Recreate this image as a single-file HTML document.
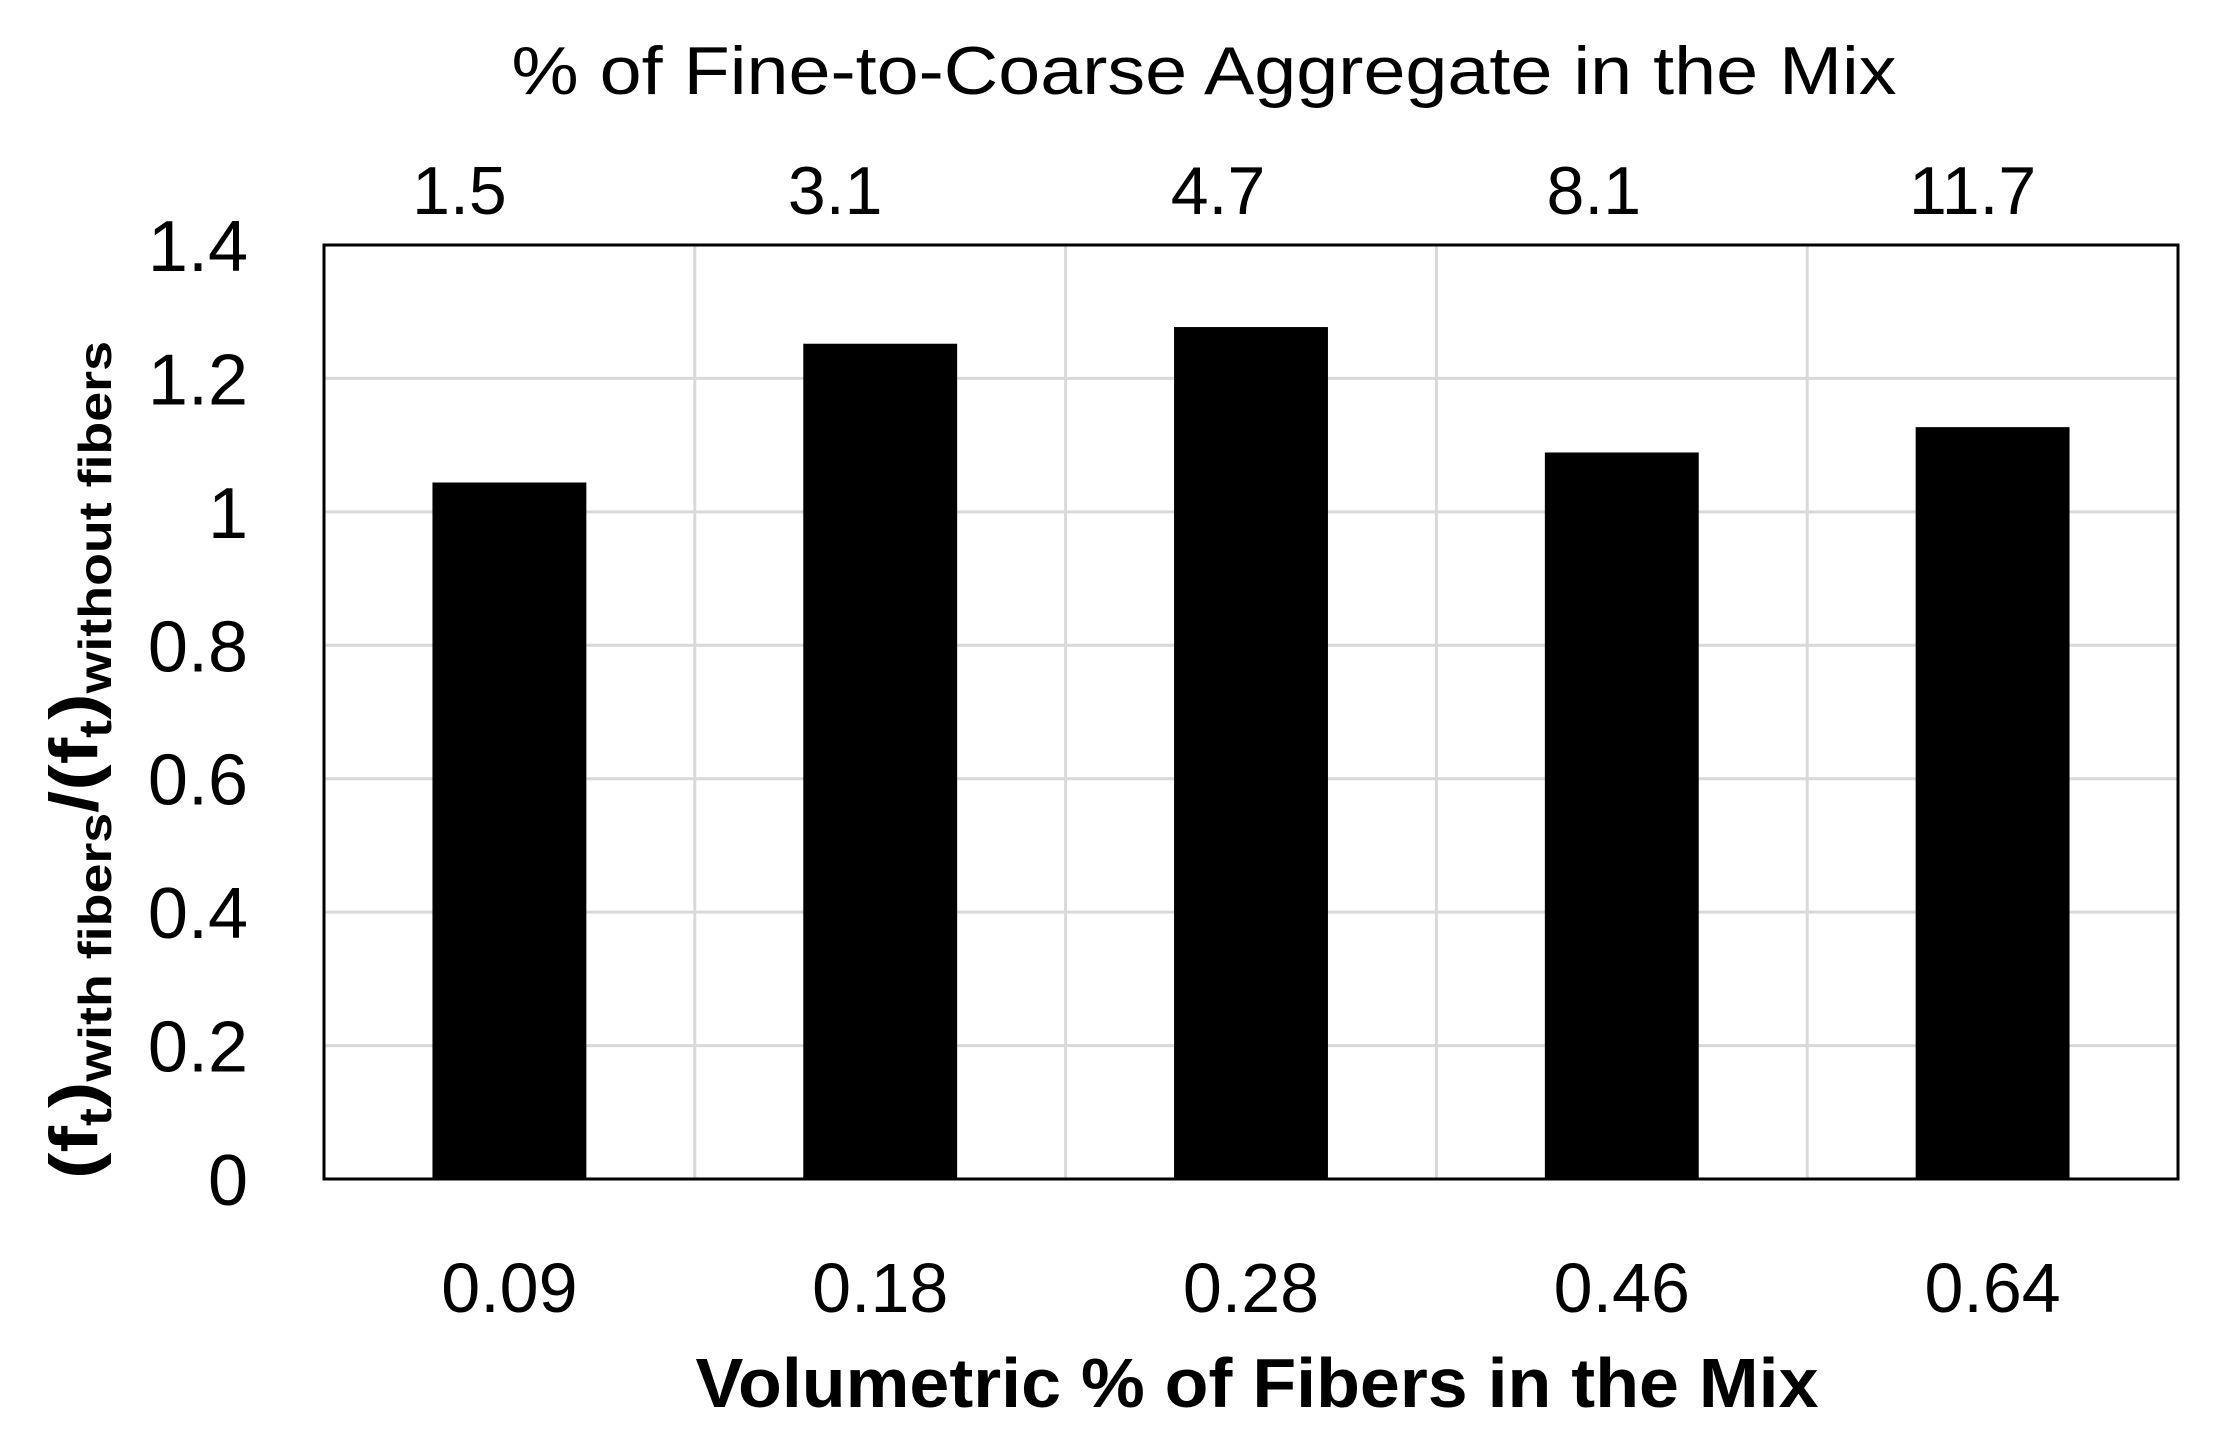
<!DOCTYPE html>
<html><head><meta charset="utf-8"><style>
html,body{margin:0;padding:0;background:#fff;}
svg{display:block;font-family:"Liberation Sans",sans-serif;}
</style></head><body>
<svg id="chart" width="2217" height="1436" viewBox="0 0 2217 1436" xmlns="http://www.w3.org/2000/svg">
<rect x="0" y="0" width="2217" height="1436" fill="#fff"/>
<g id="grid"></g>
<g id="bars"></g>
<rect x="324" y="245" width="1854" height="934" fill="none" stroke="#000" stroke-width="3"/>
<g id="labels"></g>
<text x="1204" y="94" text-anchor="middle" font-size="68" textLength="1385" lengthAdjust="spacingAndGlyphs">% of Fine-to-Coarse Aggregate in the Mix</text>
<text x="1257" y="1407" text-anchor="middle" font-size="70" font-weight="bold" textLength="1123" lengthAdjust="spacingAndGlyphs">Volumetric % of Fibers in the Mix</text>
<text transform="translate(97,760) rotate(-90)" text-anchor="middle" font-size="68" font-weight="bold" textLength="838" lengthAdjust="spacingAndGlyphs">(f<tspan font-size="46" dy="14">t</tspan><tspan dy="-14">)</tspan><tspan font-size="46" dy="14">with fibers</tspan><tspan dy="-14">/(f</tspan><tspan font-size="46" dy="14">t</tspan><tspan dy="-14">)</tspan><tspan font-size="46" dy="14">without fibers</tspan></text>
</svg>
<script>
const categories = ["0.09","0.18","0.28","0.46","0.64"];
const topLabels = ["1.5","3.1","4.7","8.1","11.7"];
const values = [1.044, 1.252, 1.277, 1.089, 1.127];
const yTicks = [0,0.2,0.4,0.6,0.8,1,1.2,1.4];
const yTickLabels = ["0","0.2","0.4","0.6","0.8","1","1.2","1.4"];
const L=324,R=2178,T=245,B=1179,YMAX=1.4;
const NS="http://www.w3.org/2000/svg";
function y(v){return B-(v/YMAX)*(B-T);}
function band(){return (R-L)/categories.length;}
function xc(i){return L+band()*(i+0.5);}
const grid=document.getElementById('grid'),bars=document.getElementById('bars'),labels=document.getElementById('labels');
function mk(tag,attrs,parent){const e=document.createElementNS(NS,tag);for(const k in attrs)e.setAttribute(k,attrs[k]);parent.appendChild(e);return e;}
yTicks.forEach((t,i)=>{
  const g=mk('line',{x1:L,x2:R,y1:y(t),y2:y(t),stroke:'#d9d9d9','stroke-width':3},grid);
  
  
  const tx=mk('text',{x:248,y:y(t)+26,'text-anchor':'end','font-size':72},labels);
  tx.textContent=yTickLabels[i];
  
  
});
for(let i=1;i<categories.length;i++){
  const v=mk('line',{x1:L+band()*i,x2:L+band()*i,y1:T,y2:B,stroke:'#d9d9d9','stroke-width':3},grid);
  
  
}
const bw=band()*0.415;
const topShift=[-50,-45,-33,-28,-20];
values.forEach((v,i)=>{
  const r=mk('rect',{x:xc(i)-bw/2,y:y(v),width:bw,height:B-y(v),fill:'#000'},bars);
  
  
  const b=mk('text',{x:xc(i),y:1312,'text-anchor':'middle','font-size':70},labels);
  b.textContent=categories[i];
  
  
  const t=mk('text',{x:xc(i)+topShift[i],y:214,'text-anchor':'middle','font-size':68},labels);
  t.textContent=topLabels[i];
  
  
});
</script>
</body></html>
